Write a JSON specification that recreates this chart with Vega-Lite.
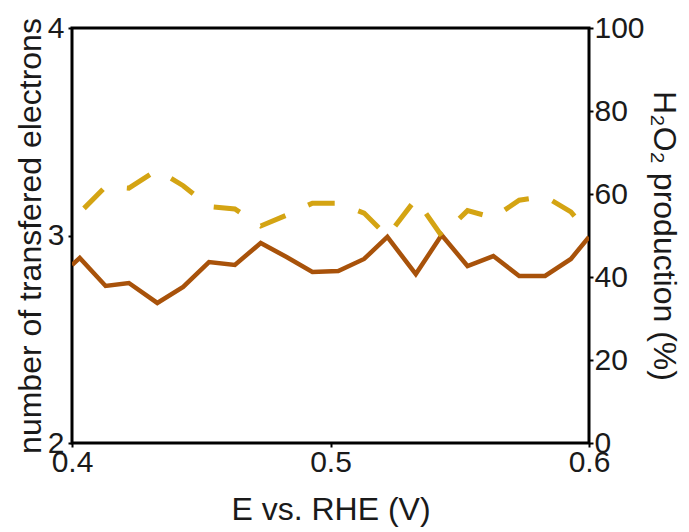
{
  "$schema": "https://vega.github.io/schema/vega-lite/v6.json",
  "width": 517,
  "height": 415,
  "autosize": {"type": "none"},
  "padding": {"left": 72, "top": 28, "right": 100, "bottom": 89},
  "background": "white",
  "config": {
    "view": {"stroke": "black", "strokeWidth": 3},
    "axis": {
      "labelFont": "Liberation Sans",
      "titleFont": "Liberation Sans",
      "labelFontSize": 30,
      "titleFontSize": 32,
      "titleFontWeight": "normal",
      "labelColor": "#1a1a1a",
      "titleColor": "#1a1a1a",
      "grid": false,
      "domain": false,
      "tickSize": 4,
      "tickColor": "black",
      "tickWidth": 2,
      "labelFlush": false,
      "labelOverlap": false
    }
  },
  "datasets": {
    "n": [
      {"E": 0.400, "n": 2.858},
      {"E": 0.403, "n": 2.892},
      {"E": 0.413, "n": 2.757},
      {"E": 0.422, "n": 2.771},
      {"E": 0.433, "n": 2.675},
      {"E": 0.443, "n": 2.752},
      {"E": 0.453, "n": 2.872},
      {"E": 0.463, "n": 2.858},
      {"E": 0.473, "n": 2.964},
      {"E": 0.483, "n": 2.896},
      {"E": 0.493, "n": 2.824},
      {"E": 0.503, "n": 2.829},
      {"E": 0.513, "n": 2.887},
      {"E": 0.522, "n": 2.993},
      {"E": 0.533, "n": 2.814},
      {"E": 0.543, "n": 3.002},
      {"E": 0.553, "n": 2.853},
      {"E": 0.563, "n": 2.901},
      {"E": 0.573, "n": 2.805},
      {"E": 0.583, "n": 2.805},
      {"E": 0.593, "n": 2.887},
      {"E": 0.600, "n": 2.993}
    ],
    "h": [
      {"E": 0.400, "h": 57.0},
      {"E": 0.403, "h": 55.5},
      {"E": 0.413, "h": 61.8},
      {"E": 0.422, "h": 61.4},
      {"E": 0.433, "h": 65.8},
      {"E": 0.443, "h": 62.0},
      {"E": 0.453, "h": 57.0},
      {"E": 0.463, "h": 56.4},
      {"E": 0.473, "h": 52.3},
      {"E": 0.483, "h": 54.9},
      {"E": 0.493, "h": 57.8},
      {"E": 0.503, "h": 57.8},
      {"E": 0.513, "h": 55.4},
      {"E": 0.522, "h": 49.8},
      {"E": 0.533, "h": 58.8},
      {"E": 0.543, "h": 49.9},
      {"E": 0.553, "h": 56.0},
      {"E": 0.563, "h": 54.3},
      {"E": 0.573, "h": 58.5},
      {"E": 0.583, "h": 59.4},
      {"E": 0.593, "h": 55.7},
      {"E": 0.600, "h": 50.6}
    ]
  },
  "layer": [
    {
      "data": {"name": "n"},
      "mark": {"type": "line", "color": "#A8520A", "strokeWidth": 4.5, "strokeJoin": "miter", "clip": true},
      "encoding": {
        "x": {
          "field": "E", "type": "quantitative",
          "scale": {"domain": [0.4, 0.6], "nice": false, "zero": false},
          "axis": {"values": [0.4, 0.5, 0.6], "format": ".1f", "title": "E vs. RHE (V)", "labelPadding": 0, "titlePadding": 17}
        },
        "y": {
          "field": "n", "type": "quantitative",
          "scale": {"domain": [2, 4], "nice": false, "zero": false},
          "axis": {"values": [2, 3, 4], "tickCount": 3, "labelExpr": "format(datum.value, '.0f')", "title": "number of transfered electrons", "orient": "left", "labelPadding": 4, "titlePadding": 0}
        }
      }
    },
    {
      "data": {"name": "h"},
      "mark": {"type": "line", "color": "#D4A413", "strokeWidth": 5, "strokeDash": [27, 25], "strokeDashOffset": 36, "clip": true},
      "encoding": {
        "x": {"field": "E", "type": "quantitative", "scale": {"domain": [0.4, 0.6], "nice": false, "zero": false}},
        "y": {
          "field": "h", "type": "quantitative",
          "scale": {"domain": [0, 100], "nice": false},
          "axis": {"values": [0, 20, 40, 60, 80, 100], "format": "d", "title": "H₂O₂ production (%)", "orient": "right", "labelPadding": 1, "titlePadding": 2}
        }
      }
    }
  ],
  "resolve": {"scale": {"y": "independent"}}
}
